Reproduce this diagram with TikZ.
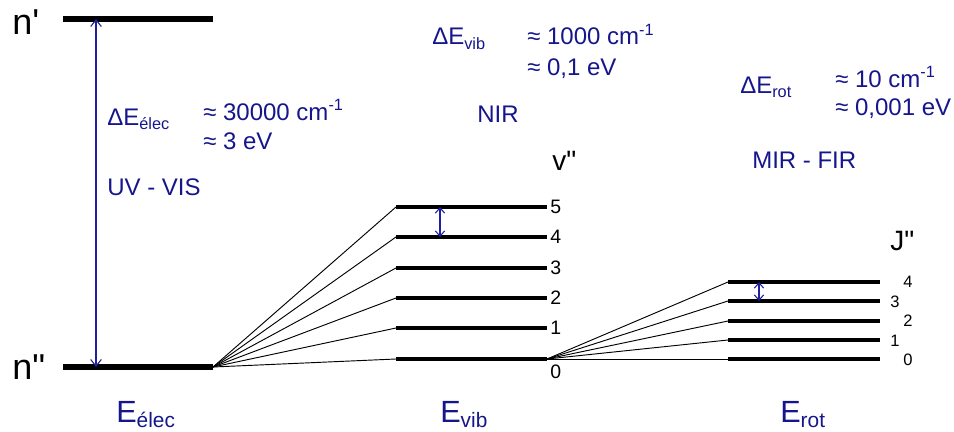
\documentclass[tikz,border=0pt]{standalone}
\usepackage{fontspec}
\setmainfont{Liberation Sans}[Ligatures=TeXOff]
\usetikzlibrary{arrows.meta}
\definecolor{tblue}{RGB}{22,22,140}
\definecolor{ablue}{RGB}{30,30,160}
\newcommand{\mysub}[1]{\raisebox{-0.35ex}{\scalebox{0.68}{#1}}}
\newcommand{\mysup}[1]{\raisebox{0.75ex}{\scalebox{0.68}{#1}}}
\newcommand{\sq}{\symbol{"27}}
\newcommand{\dq}{\symbol{"22}}
\begin{document}
\begin{tikzpicture}[x=0.75pt,y=-0.75pt,
  lvlA/.style={line width=4.5pt},
  lvlB/.style={line width=3pt},
  lvlC/.style={line width=2.3pt},
  fan/.style={line width=0.7pt},
  txt/.style={inner sep=0pt,anchor=base west,text=tblue,font=\fontsize{18}{21}\selectfont},
  big/.style={inner sep=0pt,anchor=base west,text=tblue,font=\fontsize{23}{26}\selectfont},
  qn/.style={inner sep=0pt,anchor=base west,text=black,font=\fontsize{21}{24}\selectfont},
  vnum/.style={inner sep=0pt,anchor=west,text=black,font=\fontsize{14.6}{17}\selectfont},
  rnum/.style={inner sep=0pt,anchor=west,text=black,font=\fontsize{12.4}{15}\selectfont},
  darr/.style={ablue,line width=0.8pt,{Straight Barb[length=4pt,width=7pt]}-{Straight Barb[length=4pt,width=7pt]}}]
\useasboundingbox (0,0) rectangle (954,432);
% electronic levels
\coordinate (npL) at (63,19); \coordinate (npR) at (213,19);
\coordinate (nppL) at (63,367); \coordinate (nppR) at (213,367);
\draw[lvlA] (npL) -- (npR);
\draw[lvlA] (nppL) -- (nppR);
\node[qn,font=\fontsize{27}{30}\selectfont] (np) at (12,34) {n\sq};
\node[qn,font=\fontsize{27}{30}\selectfont] (npp) at (12,379) {n\dq};
\coordinate (ea1) at (96,367); \coordinate (ea2) at (96,19);
\draw[ablue,line width=0.8pt,{Straight Barb[length=5pt,width=8pt]}-{Straight Barb[length=5pt,width=8pt]}] (ea1) -- (ea2);
\node[txt] (dEe) at (107,125) {ΔE\mysub{élec}};
\node[txt] (dEe1) at (203,120) {≈ 30000 cm\mysup{-1}};
\node[txt] (dEe2) at (203,149) {≈ 3 eV};
\node[txt] (uv) at (107,195) {UV - VIS};
% vibrational levels
\foreach \i/\y in {0/359,1/328,2/298,3/268,4/237,5/207}{
  \coordinate (v\i L) at (396,\y); \coordinate (v\i R) at (547,\y);
  \draw[lvlB] (v\i L) -- (v\i R);
  \draw[fan] (nppR) -- (v\i L);
}
\foreach \i/\y in {1/328,2/298,3/268,4/237,5/207}{
  \node[vnum] (vn\i) at (550,\y) {\i};
}
\node[vnum] (vn0) at (550,372) {0};
\node[qn] (vpp) at (552,170) {v\dq};
\coordinate (va1) at (440,237); \coordinate (va2) at (440,207);
\draw[darr] (va1) -- (va2);
\node[txt] (dEv) at (432,45) {ΔE\mysub{vib}};
\node[txt] (dEv1) at (527,45) {≈ 1000 cm\mysup{-1}};
\node[txt] (dEv2) at (527,75) {≈ 0,1 eV};
\node[txt] (nir) at (477,122) {NIR};
% rotational levels
\foreach \i/\y in {0/359,1/340,2/321,3/301,4/282}{
  \coordinate (r\i L) at (728,\y); \coordinate (r\i R) at (880,\y);
  \draw[lvlC] (r\i L) -- (r\i R);
  \draw[fan] (v0R) -- (r\i L);
}
\node[rnum] (rn4) at (903,282) {4};
\node[rnum] (rn3) at (890,302) {3};
\node[rnum] (rn2) at (903,321) {2};
\node[rnum] (rn1) at (890,341) {1};
\node[rnum] (rn0) at (903,360) {0};
\node[qn] (jpp) at (890,250) {J\dq};
\coordinate (ra1) at (759,301); \coordinate (ra2) at (759,282);
\draw[darr] (ra1) -- (ra2);
\node[txt] (dEr) at (740,93) {ΔE\mysub{rot}};
\node[txt] (dEr1) at (835,87) {≈ 10 cm\mysup{-1}};
\node[txt] (dEr2) at (835,115) {≈ 0,001 eV};
\node[txt] (mir) at (752,168) {MIR - FIR};
% bottom labels
\node[big] (Ee) at (116,422) {E\mysub{élec}};
\node[big] (Ev) at (440,422) {E\mysub{vib}};
\node[big] (Er) at (780,422) {E\mysub{rot}};
\end{tikzpicture}
\end{document}
